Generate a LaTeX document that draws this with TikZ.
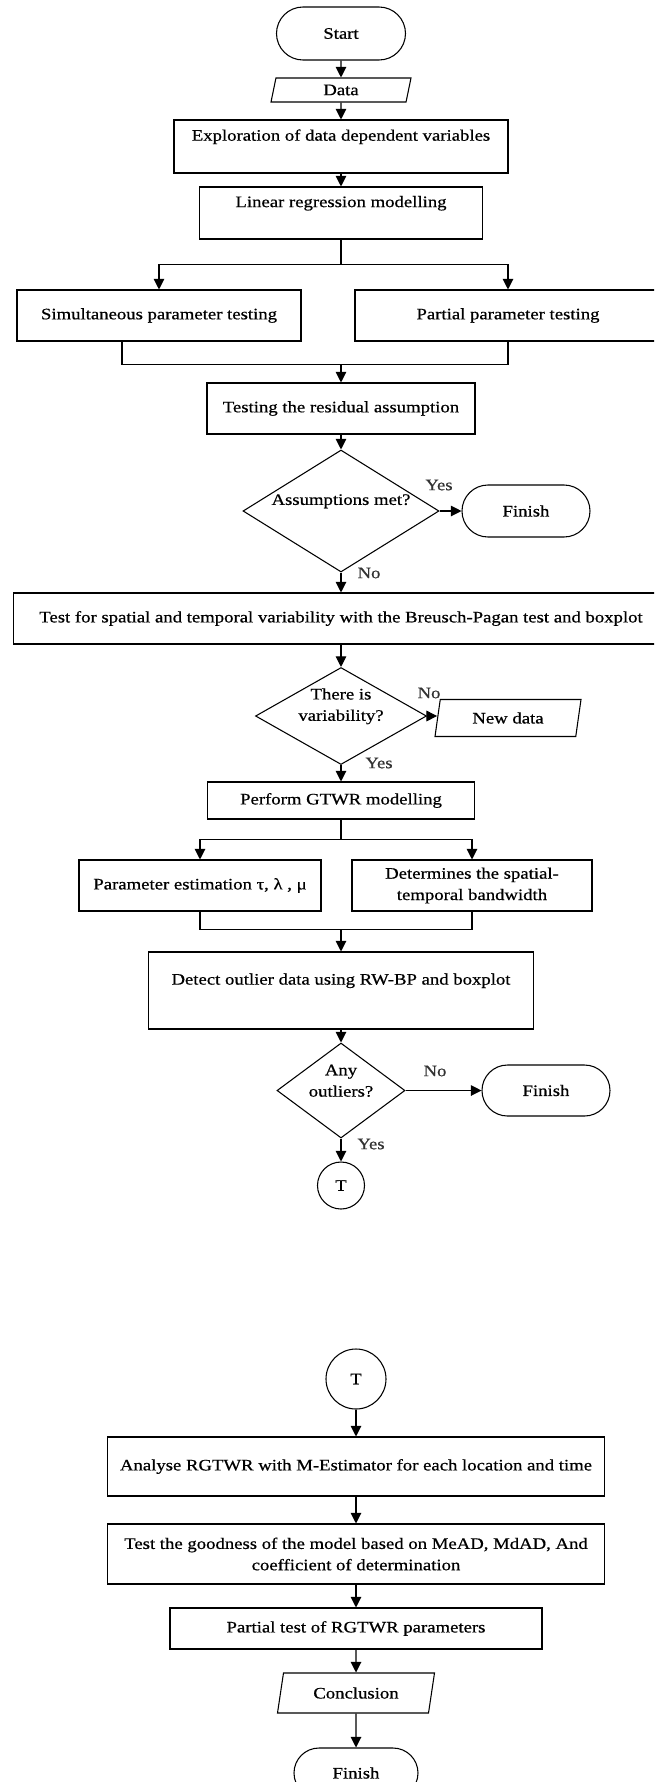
\documentclass[tikz,border=0pt]{standalone}
\usepackage{fontspec}
\setmainfont{Liberation Serif}[FakeStretch=1.17,FakeBold=0.6]
\usetikzlibrary{shapes.geometric,shapes.misc,arrows.meta}
\newcommand\myfs{\fontsize{12pt}{16pt}\selectfont}
\begin{document}
\begin{tikzpicture}[x=0.75pt,y=-0.75pt,
 base/.style={draw=black, line width=0.8pt, inner sep=0pt, font=\myfs, align=center},
 box/.style={base, rectangle},
 term/.style={base, rounded rectangle},
 io/.style={base, trapezium, trapezium left angle=65, trapezium right angle=115, trapezium stretches body},
 dec/.style={base, diamond},
 conn/.style={base, circle},
 arr/.style={line width=0.8pt, -{Triangle[length=8pt,width=8pt]}},
 ln/.style={line width=0.8pt},
 lbl/.style={font=\myfs, inner sep=0pt, text=black!80},
 up/.style={inner sep=0pt, font=\myfs, align=center, yshift=7.3pt},
]
\useasboundingbox (0,0) rectangle (654,1782);
\clip (0,0) rectangle (654,1782);

% nodes
\node[term, minimum width=96.75pt, minimum height=39.75pt] (start) at (341,33.5) {Start};
\node[io, minimum width=105pt, minimum height=18pt] (data) at (341,90) {Data};
\node[box, minimum width=250.5pt, minimum height=39.75pt, label={[up,name=exploret]center:Exploration of data dependent variables}] (explore) at (341,146.5) {};
\node[box, minimum width=212.25pt, minimum height=39pt, label={[up,name=lineart]center:Linear regression modelling}] (linear) at (341,213) {};
\node[box, minimum width=213pt, minimum height=38.25pt] (sim) at (159,315.5) {Simultaneous parameter testing};
\node[box, minimum width=229.5pt, minimum height=38.25pt] (partial) at (508,315.5) {Partial parameter testing};
\node[box, minimum width=201pt, minimum height=38.25pt] (testres) at (341,408.5) {Testing the residual assumption};
\node[dec, minimum width=147pt, minimum height=91.5pt, label={[up,name=dia1t]center:Assumptions met?}] (dia1) at (341,511) {};
\node[term, minimum width=96pt, minimum height=39pt] (finish1) at (526,511) {Finish};
\node[box, minimum width=491.25pt, minimum height=38.25pt] (spatial) at (341,618.5) {Test for spatial and temporal variability with the Breusch-Pagan test and boxplot};
\node[dec, minimum width=128.25pt, minimum height=72.75pt, label={[up,name=dia2t]center:{There is\\variability?}}] (dia2) at (341,716) {};
\node[io, minimum width=109.5pt, minimum height=27.75pt] (newdata) at (508,718) {New data};
\node[box, minimum width=200.25pt, minimum height=27.75pt] (perform) at (341,800.5) {Perform GTWR modelling};
\node[box, minimum width=181.5pt, minimum height=38.25pt] (param) at (200,885.5) {Parameter estimation τ, λ , μ};
\node[box, minimum width=180pt, minimum height=38.25pt] (determ) at (472,885.5) {Determines the spatial-\\temporal bandwidth};
\node[box, minimum width=288.75pt, minimum height=57.75pt, label={[up,name=detectt]center:Detect outlier data using RW-BP and boxplot}] (detect) at (341,990.5) {};
\node[dec, minimum width=96pt, minimum height=71.25pt, label={[up,name=dia3t]center:{Any\\outliers?}}] (dia3) at (341,1090.5) {};
\node[term, minimum width=96pt, minimum height=38.25pt] (finish2) at (546,1090.5) {Finish};
\node[conn, minimum size=35.25pt] (t1) at (341,1185.5) {T};
\node[conn, minimum size=45pt] (t2) at (356,1379) {T};
\node[box, minimum width=372.75pt, minimum height=44.25pt] (analyse) at (356,1466.5) {Analyse RGTWR with M-Estimator for each location and time};
\node[box, minimum width=372.75pt, minimum height=45pt] (goodness) at (356,1554) {Test the goodness of the model based on MeAD, MdAD, And\\coefficient of determination};
\node[box, minimum width=279pt, minimum height=30.75pt] (ptest) at (356,1628.5) {Partial test of RGTWR parameters};
\node[io, trapezium left angle=62, trapezium right angle=118, minimum width=117.75pt, minimum height=30pt] (concl) at (356,1693) {Conclusion};
\node[term, minimum width=93pt, minimum height=37.5pt] (finish3) at (356,1773) {Finish};

% branch labels
\node[lbl] (yes1) at (439,485) {Yes};
\node[lbl] (no1) at (369,573) {No};
\node[lbl] (no2) at (429,693) {No};
\node[lbl] (yes2) at (379,763) {Yes};
\node[lbl] (no3) at (435,1071) {No};
\node[lbl] (yes3) at (371,1144) {Yes};

% connectors
\draw[arr] (start) -- (data);
\draw[arr] (data) -- (explore);
\draw[arr] (explore) -- (linear);
\draw[arr] (linear.south) -- ++(0,25) -| (sim.north);
\draw[arr] (linear.south) -- ++(0,25) -| (partial.north);
\coordinate (m1) at ([xshift=-27.75pt]sim.south);
\draw[ln] (m1) -- ++(0,23) -| (partial.south);
\coordinate (m1c) at (341,364);
\draw[arr] (m1c) -- (testres);
\draw[arr] (testres) -- (dia1);
\draw[arr] (dia1) -- (finish1);
\draw[arr] (dia1) -- (spatial);
\draw[arr] (spatial) -- (dia2);
\draw[arr] (dia2.east) -- (dia2.east -| newdata.left side);
\draw[arr] (dia2) -- (perform);
\draw[arr] (perform.south) -- ++(0,20) -| (param.north);
\draw[arr] (perform.south) -- ++(0,20) -| (determ.north);
\draw[ln] (param.south) -- ++(0,18) -| (determ.south);
\coordinate (m2c) at (341,929);
\draw[arr] (m2c) -- (detect);
\draw[arr] (detect) -- (dia3);
\draw[arr] (dia3) -- (finish2);
\draw[arr] (dia3) -- (t1);
\draw[arr] (t2) -- (analyse);
\draw[arr] (analyse) -- (goodness);
\draw[arr] (goodness) -- (ptest);
\draw[arr] (ptest) -- (concl);
\draw[arr] (concl) -- (finish3);
\end{tikzpicture}
\end{document}
